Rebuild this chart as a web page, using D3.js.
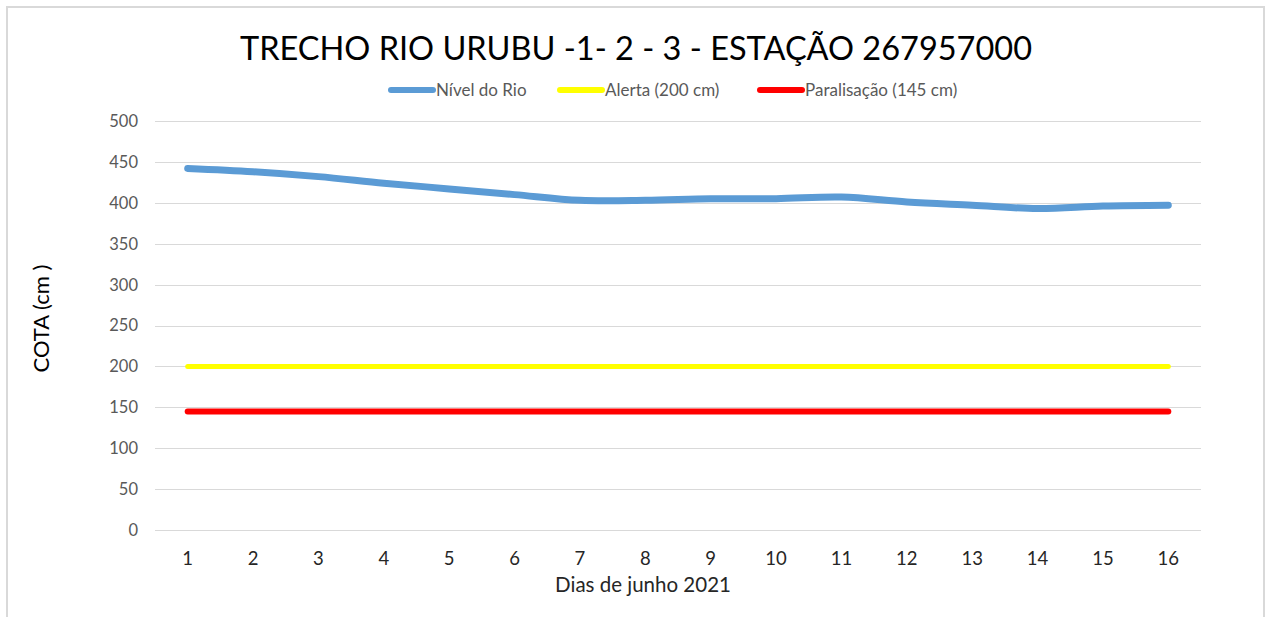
<!DOCTYPE html>
<html>
<head>
<meta charset="utf-8">
<script src="https://cdn.jsdelivr.net/npm/d3@7"></script>
<style>
  body { margin: 0; background: #fff; }
  text { font-family: Lato, "Open Sans", sans-serif; }
</style>
</head>
<body>
<div id="chart"></div>
<script>
// dias de junho 2021
const days = [1, 2, 3, 4, 5, 6, 7, 8, 9, 10, 11, 12, 13, 14, 15, 16];
// nível do rio (cm)
const nivel = [442, 438, 432, 424, 417, 410, 403, 403, 405, 405, 407, 401, 397, 393, 396, 397];
const alerta = days.map(() => 200);
const paralisacao = days.map(() => 145);
const yTicks = [0, 50, 100, 150, 200, 250, 300, 350, 400, 450, 500];

const seriesNames = ["Nível do Rio", "Alerta (200 cm)", "Paralisação (145 cm)"];
const seriesColors = ["#5b9bd5", "#ffff00", "#ff0000"];
const seriesWidths = [7, 5, 6];

function draw() {
    const W = 1265, H = 617;
    const margin = { top: 121, right: 64, bottom: 87, left: 155 },
        width = W - margin.left - margin.right,
        height = H - margin.top - margin.bottom;

    const root = d3.select("#chart")
        .html("")
        .append("svg")
        .attr("width", W)
        .attr("height", H);

    // chart border
    root.append("rect")
        .attr("x", 7).attr("y", 7)
        .attr("width", 1257).attr("height", 640)
        .attr("fill", "none")
        .attr("stroke", "#d9d9d9")
        .attr("stroke-width", 2);

    root.append("text")
        .attr("x", 636)
        .attr("y", 60)
        .attr("text-anchor", "middle")
        .style("font-size", "32.5px")
        .style("fill", "#000")
        .text("TRECHO RIO URUBU -1- 2 - 3 - ESTAÇÃO 267957000");

    const svg = root.append("g")
        .attr("transform", `translate(${margin.left},${margin.top})`);

    const x = d3.scaleBand()
        .domain(days)
        .range([0, width]);

    const y = d3.scaleLinear()
        .domain([0, 500])
        .range([height, 0]);

    // gridlines
    svg.append("g")
        .selectAll("line")
        .data(yTicks)
        .join("line")
        .attr("x1", 0)
        .attr("x2", width)
        .attr("y1", d => Math.round(y(d)) + 0.5)
        .attr("y2", d => Math.round(y(d)) + 0.5)
        .attr("stroke", "#d9d9d9")
        .attr("stroke-width", 1);

    // y axis labels
    svg.append("g")
        .selectAll("text")
        .data(yTicks)
        .join("text")
        .attr("x", -17)
        .attr("y", d => y(d))
        .attr("dy", "0.36em")
        .attr("text-anchor", "end")
        .style("font-size", "16.5px")
        .style("fill", "#595959")
        .text(d => d);

    // x axis labels
    svg.append("g")
        .selectAll("text")
        .data(days)
        .join("text")
        .attr("x", d => x(d) + x.bandwidth() / 2)
        .attr("y", height + 35)
        .attr("text-anchor", "middle")
        .style("font-size", "18.5px")
        .style("fill", "#262626")
        .text(d => d);

    svg.append("text")
        .attr("x", 643 - margin.left)
        .attr("y", height + 62)
        .attr("text-anchor", "middle")
        .style("font-size", "20.5px")
        .style("fill", "#262626")
        .text("Dias de junho 2021");

    svg.append("text")
        .attr("transform", `translate(${-106},${height / 2 - 7}) rotate(-90)`)
        .attr("text-anchor", "middle")
        .style("font-size", "22px")
        .style("fill", "#000")
        .text("COTA (cm )");

    const line = d3.line()
        .curve(d3.curveCatmullRom)
        .x((d, i) => x(days[i]) + x.bandwidth() / 2)
        .y(d => y(d));

    const allSeries = [nivel, alerta, paralisacao];
    // draw reference lines first, river level on top
    [2, 1, 0].forEach(i => {
        svg.append("path")
            .datum(allSeries[i])
            .attr("fill", "none")
            .attr("stroke", seriesColors[i])
            .attr("stroke-width", seriesWidths[i])
            .attr("stroke-linecap", "round")
            .attr("stroke-linejoin", "round")
            .attr("d", line);
    });

    // legend
    const legendX = [388, 557, 757];
    const legend = root.append("g")
        .selectAll("g")
        .data(seriesNames)
        .join("g")
        .attr("transform", (d, i) => `translate(${legendX[i]},90)`);

    legend.append("line")
        .attr("x1", 3).attr("x2", 45)
        .attr("y1", 0).attr("y2", 0)
        .attr("stroke", (d, i) => seriesColors[i])
        .attr("stroke-width", 6)
        .attr("stroke-linecap", "round");

    legend.append("text")
        .attr("x", 48)
        .attr("dy", "0.35em")
        .style("font-size", "17px")
        .style("fill", "#595959")
        .text(d => d);
}

window.onload = draw;
</script>
</body>
</html>
